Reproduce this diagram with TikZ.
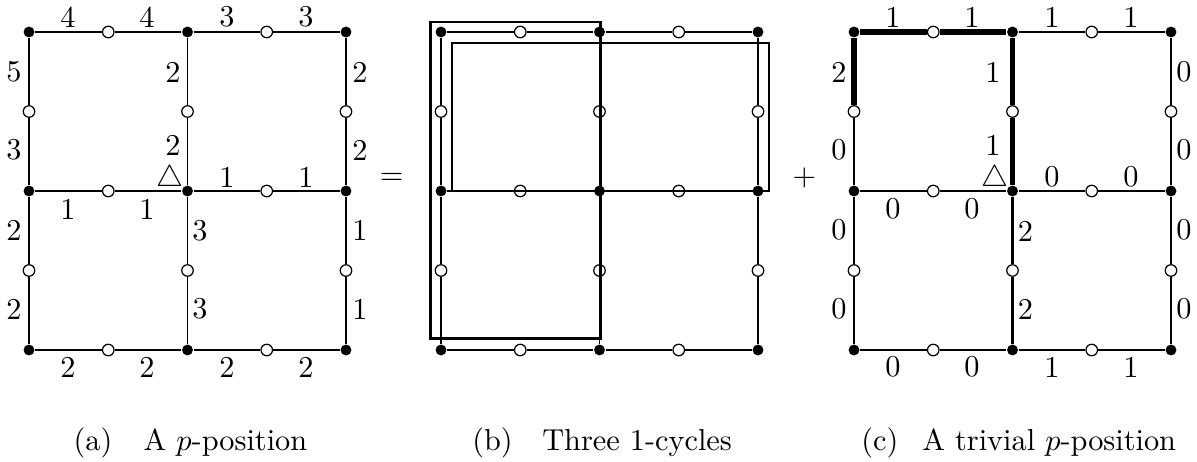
\documentclass[tikz,border=0pt]{standalone}
\tikzset{
  dot/.style={circle,fill=black,inner sep=0pt,minimum size=3.6pt},
  hollow/.style={circle,draw=black,line width=0.4pt,inner sep=0pt,minimum size=3.8pt},
  edge/.style={line width=0.55pt},
  heavy/.style={line width=1.7pt},
  medium/.style={line width=0.75pt},
  lbl/.style={inner sep=0pt},
  captext/.style={inner sep=0pt,anchor=base west},
  cycthin/.style={line width=0.55pt},
  cycthick/.style={line width=0.9pt},
}
\newcommand\gridpanel[1]{%
  \foreach \i/\x in {0/0,1/158.5,2/317}{
    \foreach \j/\y in {0/32,1/191,2/350}{
      \node[dot] (#1v\i\j) at (\x,\y) {};
    }}
  \foreach \i/\x in {0/79.25,1/237.75}{
    \foreach \j/\y in {0/32,1/191,2/350}{
      \node[hollow] (#1h\i\j) at (\x,\y) {};
    }}
  \foreach \i/\x in {0/0,1/158.5,2/317}{
    \foreach \j/\y in {0/111.5,1/270.5}{
      \node[hollow] (#1u\i\j) at (\x,\y) {};
    }}
  \foreach \i/\k in {0/1,1/2}{
    \foreach \j in {0,1,2}{
      \draw[edge] (#1v\i\j) -- (#1h\i\j) -- (#1v\k\j);
    }}
  \foreach \i in {0,1,2}{
    \foreach \j/\k in {0/1,1/2}{
      \draw[edge] (#1v\i\j) -- (#1u\i\j) -- (#1v\i\k);
    }}
}
\begin{document}
\begin{tikzpicture}[x=0.33pt,y=-0.33pt]
\useasboundingbox (0,0) rectangle (1197,462);

% ---------- (a)
\begin{scope}[shift={(29,0)}]
  \gridpanel{a}
  \draw[line width=0.75pt] (av00) -- (au00) -- (av01) -- (au01) -- (av02);
  \draw[line width=0.65pt] (av10) -- (au10) -- (av11) -- (au11) -- (av12);
  % top
  \node[lbl] (at1) at (39,17) {4};
  \node[lbl] (at2) at (118,17) {4};
  \node[lbl] (at3) at (198,17) {3};
  \node[lbl] (at4) at (277,17) {3};
  % left
  \node[lbl] (al1) at (-15,72) {5};
  \node[lbl] (al2) at (-15,150) {3};
  \node[lbl] (al3) at (-15,230) {2};
  \node[lbl] (al4) at (-15,309) {2};
  % middle vertical
  \node[lbl] (am1) at (144,72) {2};
  \node[lbl] (am2) at (144,145) {2};
  \node[lbl] (am3) at (171,231) {3};
  \node[lbl] (am4) at (171,309) {3};
  % right
  \node[lbl] (ar1) at (331,72) {2};
  \node[lbl] (ar2) at (331,150) {2};
  \node[lbl] (ar3) at (331,230) {1};
  \node[lbl] (ar4) at (331,309) {1};
  % middle horizontal
  \node[lbl] (ah1) at (198,177) {1};
  \node[lbl] (ah2) at (277,177) {1};
  \node[lbl] (ah3) at (39,209) {1};
  \node[lbl] (ah4) at (118,209) {1};
  % bottom
  \node[lbl] (ab1) at (39,367) {2};
  \node[lbl] (ab2) at (118,367) {2};
  \node[lbl] (ab3) at (198,367) {2};
  \node[lbl] (ab4) at (277,367) {2};
  \node[lbl] (atri) at (141,179) {$\triangle$};
\end{scope}

\node[lbl] (eq) at (391.7,179) {$=$};

% ---------- (b)
\begin{scope}[shift={(441,0)}]
  \gridpanel{b}
\end{scope}
\draw[cycthick] (430.3,22) rectangle (600.3,338.7);
\draw[cycthin] (451.7,43) rectangle (768.7,190.7);

\node[lbl] (plus) at (804.3,178) {$+$};

% ---------- (c)
\begin{scope}[shift={(854,0)}]
  \gridpanel{c}
  \draw[heavy] (cv00) -- (ch00) -- (cv10);
  \draw[heavy] (cv00) -- (cu00);
  \draw[heavy] (cv10) -- (cu10) -- (cv11);
  \draw[medium] (cv11) -- (cu11) -- (cv12);
  % top
  \node[lbl] (ct1) at (39,17) {1};
  \node[lbl] (ct2) at (118,17) {1};
  \node[lbl] (ct3) at (198,17) {1};
  \node[lbl] (ct4) at (277,17) {1};
  % left
  \node[lbl] (cl1) at (-15,72) {2};
  \node[lbl] (cl2) at (-15,150) {0};
  \node[lbl] (cl3) at (-15,230) {0};
  \node[lbl] (cl4) at (-15,309) {0};
  % middle vertical
  \node[lbl] (cm1) at (139,72) {1};
  \node[lbl] (cm2) at (139,145) {1};
  \node[lbl] (cm3) at (171.5,231) {2};
  \node[lbl] (cm4) at (171.5,309) {2};
  % right
  \node[lbl] (cr1) at (330,72) {0};
  \node[lbl] (cr2) at (330,150) {0};
  \node[lbl] (cr3) at (330,230) {0};
  \node[lbl] (cr4) at (330,309) {0};
  % middle horizontal
  \node[lbl] (ch1) at (198,177) {0};
  \node[lbl] (ch2) at (277,177) {0};
  \node[lbl] (ch3) at (39,209) {0};
  \node[lbl] (ch4) at (118,209) {0};
  % bottom
  \node[lbl] (cb1) at (39,367) {0};
  \node[lbl] (cb2) at (118,367) {0};
  \node[lbl] (cb3) at (198,367) {1};
  \node[lbl] (cb4) at (277,367) {1};
  \node[lbl] (ctri) at (141,179) {$\triangle$};
\end{scope}

% ---------- captions
\node[captext] (capa1) at (73,451) {(a)};
\node[captext] (capa2) at (143,451) {A $p$-position};
\node[captext] (capb1) at (471.7,451) {(b)};
\node[captext] (capb2) at (541.7,451) {Three 1-cycles};
\node[captext] (capc1) at (860.7,451) {(c)};
\node[captext] (capc2) at (921.7,451) {A trivial $p$-position};
\end{tikzpicture}
\end{document}
